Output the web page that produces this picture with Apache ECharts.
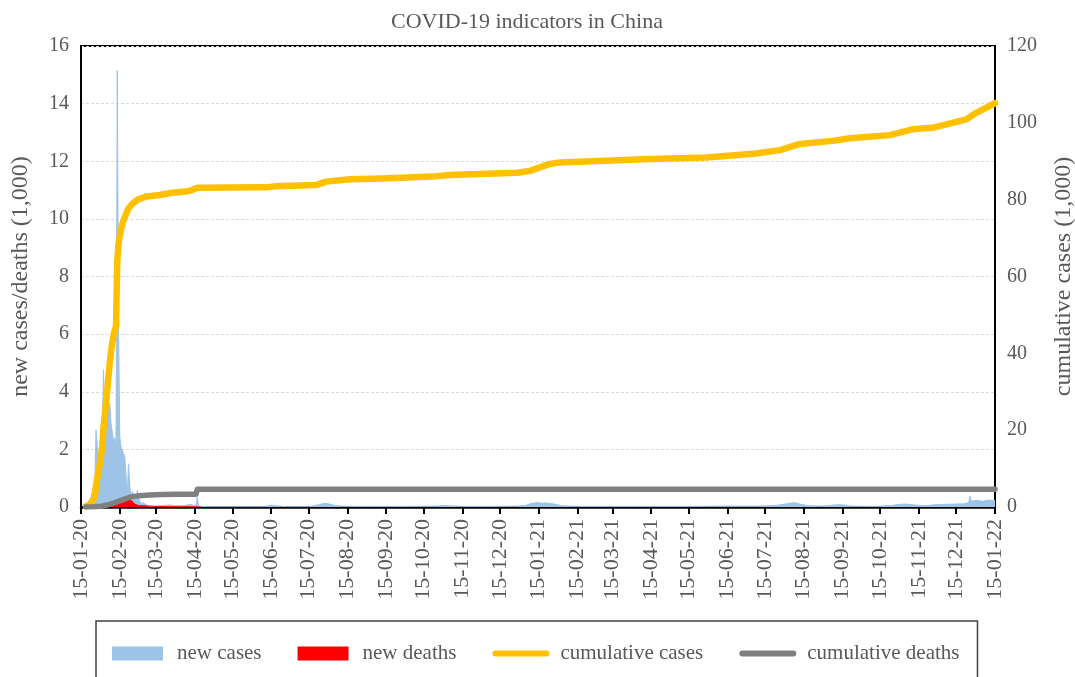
<!DOCTYPE html>
<html>
<head>
<meta charset="utf-8">
<script src="https://cdn.jsdelivr.net/npm/echarts@6/dist/echarts.min.js"></script>
<style>
  html, body { margin: 0; padding: 0; background: #fff; }
  #chart { width: 1075px; height: 677px; }
</style>
</head>
<body>
<div id="chart"></div>
<script>
// daily new cases (1,000), only days that show on the picture
var caseDates = ['2020-01-18','2020-01-19','2020-01-20','2020-01-21','2020-01-22','2020-01-23','2020-01-24','2020-01-25','2020-01-26','2020-01-27',
  '2020-01-28','2020-01-29','2020-01-30','2020-01-31','2020-02-01','2020-02-02','2020-02-03','2020-02-04','2020-02-05','2020-02-06',
  '2020-02-07','2020-02-08','2020-02-09','2020-02-10','2020-02-11','2020-02-12','2020-02-13','2020-02-14','2020-02-15','2020-02-16',
  '2020-02-17','2020-02-18','2020-02-19','2020-02-20','2020-02-21','2020-02-22','2020-02-23','2020-02-24','2020-02-25','2020-02-26',
  '2020-02-27','2020-02-28','2020-02-29','2020-03-01','2020-03-02','2020-03-03','2020-03-04','2020-03-05','2020-03-06','2020-03-07',
  '2020-03-08','2020-03-10','2020-03-14','2020-03-18','2020-03-22','2020-03-26','2020-03-30','2020-04-04','2020-04-08','2020-04-12',
  '2020-04-14','2020-04-16','2020-04-17','2020-04-18','2020-04-25','2020-05-10','2020-06-10','2020-06-13','2020-06-16','2020-06-19',
  '2020-06-22','2020-06-28','2020-07-15','2020-07-20','2020-07-24','2020-07-28','2020-07-31','2020-08-04','2020-08-10','2020-08-20',
  '2020-09-01','2020-10-01','2020-10-25','2020-10-30','2020-11-05','2020-11-15','2020-12-10','2020-12-28','2021-01-05','2021-01-09',
  '2021-01-12','2021-01-15','2021-01-18','2021-01-21','2021-01-25','2021-01-29','2021-02-03','2021-02-15','2021-04-01','2021-05-15',
  '2021-06-10','2021-07-10','2021-07-25','2021-07-31','2021-08-05','2021-08-08','2021-08-12','2021-08-18','2021-08-28','2021-09-12',
  '2021-09-16','2021-09-22','2021-10-10','2021-10-24','2021-10-30','2021-11-05','2021-11-12','2021-11-20','2021-11-28','2021-12-05',
  '2021-12-12','2021-12-20','2021-12-25','2021-12-26','2021-12-27','2021-12-31','2022-01-05','2022-01-10','2022-01-15'];
var newCases = [0,0.05,0.1,0.15,0.25,0.35,0.5,0.7,0.8,2.67,
  2.1,1.75,2.0,2.1,2.6,4.76,3.0,3.3,3.1,3.5,
  3.6,2.9,2.6,2.3,2.4,2.0,15.15,6.5,2.45,2.1,
  1.98,1.85,1.75,1.1,0.4,1.5,0.75,0.35,0.53,0.5,
  0.38,0.3,0.57,0.59,0.2,0.13,0.12,0.14,0.1,0.08,
  0.05,0.03,0.02,0.04,0.06,0.07,0.05,0.04,0.06,0.1,
  0.05,0.06,0.35,0.03,0.01,0.01,0.01,0.05,0.06,0.04,
  0.03,0.01,0.01,0.05,0.09,0.13,0.11,0.06,0.03,0.02,
  0.02,0.02,0.03,0.05,0.04,0.02,0.02,0.03,0.06,0.12,
  0.14,0.15,0.13,0.14,0.12,0.09,0.04,0.02,0.02,0.02,
  0.03,0.03,0.06,0.1,0.14,0.15,0.1,0.05,0.03,0.08,
  0.07,0.03,0.02,0.05,0.09,0.1,0.07,0.04,0.08,0.09,
  0.1,0.11,0.15,0.38,0.2,0.23,0.2,0.24,0.22];

// daily new deaths (1,000)
var deathDates = ['2020-01-20','2020-01-24','2020-01-28','2020-02-01','2020-02-05','2020-02-09','2020-02-13','2020-02-16','2020-02-19',
  '2020-02-21','2020-02-23','2020-02-25','2020-02-27','2020-03-01','2020-03-10','2020-03-25','2020-04-10','2020-04-20'];
var newDeaths = [0,0.01,0.03,0.05,0.07,0.09,0.12,0.14,0.17,
  0.22,0.24,0.2,0.1,0.05,0.03,0.01,0.01,0];

// cumulative cases (1,000)
var cumCaseDates = ['2020-01-19','2020-01-20','2020-01-21','2020-01-22','2020-01-23','2020-01-24','2020-01-25','2020-01-26','2020-01-27','2020-01-28',
  '2020-01-29','2020-01-30','2020-01-31','2020-02-01','2020-02-02','2020-02-03','2020-02-04','2020-02-05','2020-02-06','2020-02-07',
  '2020-02-08','2020-02-09','2020-02-10','2020-02-11','2020-02-12','2020-02-13','2020-02-14','2020-02-15','2020-02-16','2020-02-17',
  '2020-02-18','2020-02-19','2020-02-20','2020-02-21','2020-02-22','2020-02-23','2020-02-26','2020-03-01','2020-03-07','2020-03-18',
  '2020-03-28','2020-04-08','2020-04-13','2020-04-17','2020-06-06','2020-06-11','2020-06-19','2020-07-21','2020-07-29','2020-08-17',
  '2020-09-12','2020-10-22','2020-11-05','2020-12-29','2021-01-08','2021-01-24','2021-02-01','2021-04-14','2021-05-29','2021-07-08',
  '2021-07-27','2021-08-12','2021-09-07','2021-09-21','2021-10-23','2021-11-10','2021-11-26','2021-12-23','2021-12-31','2022-01-15'];
var cumCases = [0.2,0.3,0.5,0.7,1.0,1.4,2.0,2.8,5.5,7.5,
  9.2,11.2,13.3,16.0,20.8,23.8,27.1,30.4,34.0,37.5,
  40.3,42.8,44.6,46.0,47.0,64.0,68.5,70.5,72.3,73.6,
  74.6,75.4,76.3,77.0,77.7,78.2,79.2,80.1,80.8,81.2,
  81.8,82.1,82.5,83.1,83.2,83.2,83.5,83.8,84.7,85.3,
  85.5,86.0,86.4,87.0,87.5,89.3,89.7,90.6,91.0,92.0,
  92.9,94.5,95.3,96.0,96.8,98.3,98.7,100.9,102.6,105.1];

// cumulative deaths (1,000)
var cumDeathDates = ['2020-01-19','2020-01-25','2020-01-31','2020-02-05','2020-02-10','2020-02-15','2020-02-20','2020-02-25',
  '2020-03-01','2020-03-10','2020-03-20','2020-04-01','2020-04-16','2020-04-17','2022-01-15'];
var cumDeaths = [0,0.05,0.2,0.5,1.0,1.6,2.2,2.7,2.9,3.1,3.25,3.3,3.35,4.64,4.64];

// one category per day, 15-01-20 .. 15-01-22
var days = [];
for (var t = Date.UTC(2020, 0, 15); t <= Date.UTC(2022, 0, 15); t += 86400000) {
    days.push(new Date(t).toISOString().slice(0, 10));
}

function pairs(xs, ys) {
    return xs.map(function (x, i) { return [x, ys[i]]; });
}
function onFifteenth(idx, val) {
    return val.slice(8) === '15';
}

var grey = '#595959';
var font = 'Liberation Serif';

var myChart = echarts.init(document.getElementById('chart'));
option = {
    backgroundColor: '#fff',
    animation: false,
    title: {
        text: 'COVID-19 indicators in China',
        left: 386,
        top: 6,
        textStyle: { fontFamily: font, fontSize: 22, fontWeight: 'normal', color: grey }
    },
    legend: {
        left: 96,
        top: 621,
        padding: [22, 18, 40, 16],
        borderColor: '#404040',
        borderWidth: 1.5,
        itemWidth: 51,
        itemHeight: 14,
        itemGap: 36,
        textStyle: { fontFamily: font, fontSize: 21, color: grey, padding: [0, 0, 0, 9] },
        data: [
            { name: 'new cases', icon: 'rect' },
            { name: 'new deaths', icon: 'rect' },
            { name: 'cumulative cases', itemStyle: { opacity: 0 }, lineStyle: { width: 6, cap: 'round' } },
            { name: 'cumulative deaths', itemStyle: { opacity: 0 }, lineStyle: { width: 6, cap: 'round' } }
        ]
    },
    grid: {
        left: 81, right: 80, top: 46, bottom: 170,
        outerBoundsMode: 'none',
        show: true,
        borderColor: '#000',
        borderWidth: 2
    },
    xAxis: {
        type: 'category',
        data: days,
        boundaryGap: false,
        axisLine: { lineStyle: { color: '#000', width: 2.5 } },
        axisTick: { interval: onFifteenth, length: 7, lineStyle: { color: '#000', width: 2 } },
        axisLabel: {
            interval: onFifteenth,
            rotate: 90,
            margin: 12,
            fontFamily: font,
            fontSize: 22,
            color: grey,
            formatter: function (v) {
                return v.slice(8) + '-' + v.slice(5, 7) + '-' + v.slice(2, 4);
            }
        },
        splitLine: { show: false }
    },
    yAxis: [
        {
            type: 'value',
            min: 0, max: 16, interval: 2,
            name: 'new cases/deaths (1,000)',
            nameLocation: 'middle',
            nameGap: 48,
            nameRotate: 90,
            nameTextStyle: { fontFamily: font, fontSize: 24, color: grey },
            axisLine: { show: true, lineStyle: { color: '#000', width: 2 } },
            axisTick: { show: false },
            axisLabel: { fontFamily: font, fontSize: 20, color: grey, margin: 12 },
            splitLine: { lineStyle: { color: '#d9d9d9', type: [3, 2], width: 1 } }
        },
        {
            type: 'value',
            min: 0, max: 120, interval: 20,
            name: 'cumulative cases (1,000)',
            nameLocation: 'middle',
            nameGap: 57,
            nameRotate: 90,
            nameTextStyle: { fontFamily: font, fontSize: 24, color: grey },
            axisLine: { show: true, lineStyle: { color: '#000', width: 2 } },
            axisTick: { show: false },
            axisLabel: { fontFamily: font, fontSize: 20, color: grey, margin: 12 },
            splitLine: { show: false }
        }
    ],
    series: [
        {
            name: 'new cases',
            type: 'line',
            yAxisIndex: 0,
            symbol: 'none',
            data: pairs(caseDates, newCases),
            itemStyle: { color: '#9dc3e6' },
            lineStyle: { color: '#9dc3e6', width: 1 },
            areaStyle: { color: '#9dc3e6', opacity: 1 }
        },
        {
            name: 'new deaths',
            type: 'line',
            yAxisIndex: 0,
            symbol: 'none',
            data: pairs(deathDates, newDeaths),
            itemStyle: { color: '#ff0000' },
            lineStyle: { color: '#ff0000', width: 1 },
            areaStyle: { color: '#ff0000', opacity: 1 }
        },
        {
            name: 'cumulative cases',
            type: 'line',
            yAxisIndex: 1,
            symbol: 'none',
            data: pairs(cumCaseDates, cumCases),
            itemStyle: { color: '#ffc000' },
            lineStyle: { color: '#ffc000', width: 6.5, cap: 'round', join: 'round' }
        },
        {
            name: 'cumulative deaths',
            type: 'line',
            yAxisIndex: 1,
            symbol: 'none',
            data: pairs(cumDeathDates, cumDeaths),
            itemStyle: { color: '#808080' },
            lineStyle: { color: '#808080', width: 5.5, cap: 'round', join: 'round' }
        }
    ]
};
myChart.setOption(option);
</script>
</body>
</html>
